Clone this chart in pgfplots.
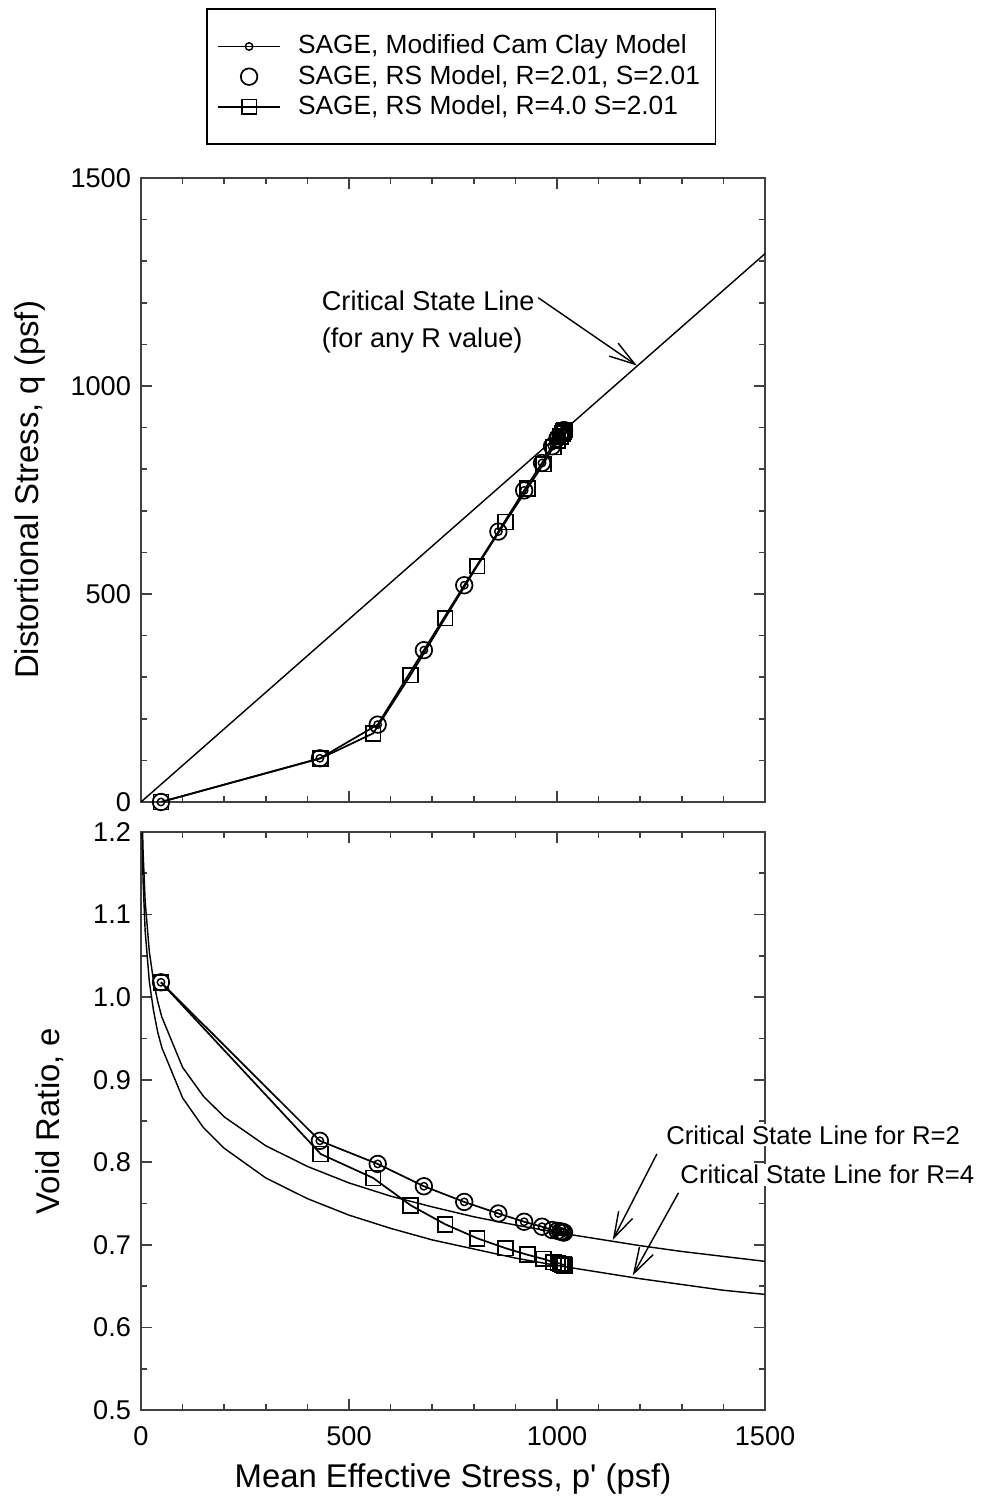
\documentclass[border=0pt]{standalone}
\usepackage{fontspec}
\setmainfont{Liberation Sans}
\usepackage{pgfplots}
\pgfplotsset{compat=1.18}
\usetikzlibrary{arrows.meta}

\begin{document}
\begin{tikzpicture}[x=1pt,y=1pt]
\useasboundingbox (0,0) rectangle (345.45,523.6);
\pgfplotsset{
  every axis/.append style={
    /pgf/number format/assume math mode=true,
    /pgf/number format/1000 sep={},
    scale only axis,
    width=218.4pt,
    xmin=0, xmax=1500,
    xtick={0,500,1000,1500},
    minor x tick num=4,
    tick align=inside,
    major tick length=3.9pt,
    minor tick length=2pt,
    axis line style={line width=0.8pt, black!75},
    every tick/.style={black!75, line width=0.6pt},
    tick label style={font=\fontsize{9.5}{11}\selectfont},
    xticklabel style={yshift=-2.2pt},
    label style={font=\fontsize{11.5}{13}\selectfont},
    clip mode=individual,
    legend image code/.code={\draw[mark repeat=2,mark phase=2,#1] plot coordinates {(0pt,0pt) (10.85pt,0pt) (21.7pt,0pt)};},
  },
  mcc/.style={black, line width=0.6pt, mark=o, mark size=1.3pt, mark options={line width=0.5pt}},
  rsc/.style={black, only marks, mark=o, mark size=2.9pt, mark options={line width=0.6pt}},
  rss/.style={black, line width=0.6pt, mark=square, mark size=2.6pt, mark options={line width=0.6pt}},
}
% ---------------- top panel ----------------
\begin{axis}[
  at={(49.35pt,242.9pt)}, anchor=south west,
  height=218.4pt,
  ymin=0, ymax=1500,
  ytick={0,500,1000,1500},
  minor y tick num=4,
  xticklabels={},
  ylabel={Distortional Stress, q (psf)},
  ylabel style={at={(axis description cs:-0.178,0.5)}, anchor=center},
  legend style={at={(0.5135,1.272)}, anchor=north, draw=black, line width=0.6pt,
    font=\fontsize{9.2}{10}\selectfont, inner xsep=3.5pt, inner ysep=8.2pt, row sep=0.8pt,
    nodes={inner ysep=0.8pt},
    /tikz/every odd column/.append style={column sep=4pt},
    cells={anchor=west}},
]
\addplot[mcc] coordinates {(48,0) (430,105) (569,186) (680,365) (777,521) (859,650) (921,749) (964,815) (988,855) (1001,874) (1008,884) (1012,889) (1015,892) (1017,894)};
\addlegendentry{SAGE, Modified Cam Clay Model}
\addplot[rsc] coordinates {(48,0) (430,105) (569,186) (680,365) (777,521) (859,650) (921,749) (964,815) (988,855) (1001,874) (1008,884) (1012,889) (1015,892) (1017,894)};
\addlegendentry{SAGE, RS Model, R=2.01, S=2.01}
\addplot[rss] coordinates {(48,0) (432,105) (558,165) (648,305) (731,442) (808,567) (876,673) (929,754) (967,812) (991,853) (1002,869) (1009,879) (1013,886) (1016,891) (1018,894)};
\addlegendentry{SAGE, RS Model, R=4.0 S=2.01}
\addplot[black, line width=0.5pt, forget plot] coordinates {(0,0) (1500,1318)};
\node[anchor=west, font=\fontsize{9.5}{11}\selectfont, inner sep=0.5pt] at (axis cs:430,1205) {Critical State Line};
\node[anchor=west, font=\fontsize{9.5}{11}\selectfont, inner sep=0.5pt] at (axis cs:430,1109) {(for any R value)};
\draw[line width=0.5pt, -{Straight Barb[length=9pt,width=5.5pt]}] (axis cs:955,1212) -- (axis cs:1192,1049);
\end{axis}
% ---------------- bottom panel ----------------
\begin{axis}[
  at={(49.35pt,30.1pt)}, anchor=south west,
  height=202.3pt,
  ymin=0.5, ymax=1.2,
  ytick={0.5,0.6,0.7,0.8,0.9,1.0,1.1,1.2},
  minor y tick num=1,
  yticklabel style={/pgf/number format/.cd, fixed, fixed zerofill, precision=1},
  ylabel={Void Ratio, e},
  ylabel style={at={(axis description cs:-0.146,0.5)}, anchor=center},
  xlabel={Mean Effective Stress, p\textquotesingle{} (psf)},
  xlabel style={at={(axis description cs:0.5,-0.12)}, anchor=center},
]
\addplot[black, line width=0.5pt] coordinates {(3.8,1.200) (5,1.176) (10,1.116) (20,1.055) (30,1.020) (40,0.995) (50,0.976) (100,0.915) (150,0.880) (200,0.855) (300,0.820) (400,0.795) (500,0.775) (600,0.759) (700,0.746) (800,0.734) (900,0.724) (1000,0.715) (1100,0.707) (1200,0.699) (1300,0.692) (1400,0.686) (1500,0.680)};
\addplot[black, line width=0.5pt] coordinates {(2.6,1.200) (5,1.141) (10,1.080) (20,1.019) (30,0.984) (40,0.958) (50,0.939) (100,0.878) (150,0.842) (200,0.817) (300,0.781) (400,0.756) (500,0.736) (600,0.720) (700,0.706) (800,0.695) (900,0.684) (1000,0.675) (1100,0.667) (1200,0.659) (1300,0.652) (1400,0.645) (1500,0.640)};
\addplot[mcc] coordinates {(48,1.018) (430,0.826) (569,0.798) (680,0.771) (777,0.752) (859,0.738) (921,0.728) (964,0.722) (988,0.718) (1001,0.717) (1008,0.716) (1012,0.716) (1015,0.715) (1017,0.715)};
\addplot[rsc] coordinates {(48,1.018) (430,0.826) (569,0.798) (680,0.771) (777,0.752) (859,0.738) (921,0.728) (964,0.722) (988,0.718) (1001,0.717) (1008,0.716) (1012,0.716) (1015,0.715) (1017,0.715)};
\addplot[rss] coordinates {(48,1.018) (432,0.810) (558,0.781) (648,0.748) (731,0.725) (808,0.708) (876,0.696) (929,0.688) (967,0.683) (991,0.679) (1002,0.678) (1009,0.677) (1013,0.676) (1016,0.676) (1018,0.675)};
\node[anchor=west, fill=white, inner sep=0.5pt, font=\fontsize{9}{10.5}\selectfont] at (axis cs:1258,0.833) {Critical State Line for R=2};
\node[anchor=west, fill=white, inner sep=0.5pt, font=\fontsize{9}{10.5}\selectfont] at (axis cs:1292,0.785) {Critical State Line for R=4};
\draw[line width=0.5pt, -{Straight Barb[length=9pt,width=5.5pt]}] (axis cs:1240,0.810) -- (axis cs:1134,0.706);
\draw[line width=0.5pt, -{Straight Barb[length=9pt,width=5.5pt]}] (axis cs:1292,0.763) -- (axis cs:1182,0.663);
\end{axis}
\end{tikzpicture}
\end{document}
